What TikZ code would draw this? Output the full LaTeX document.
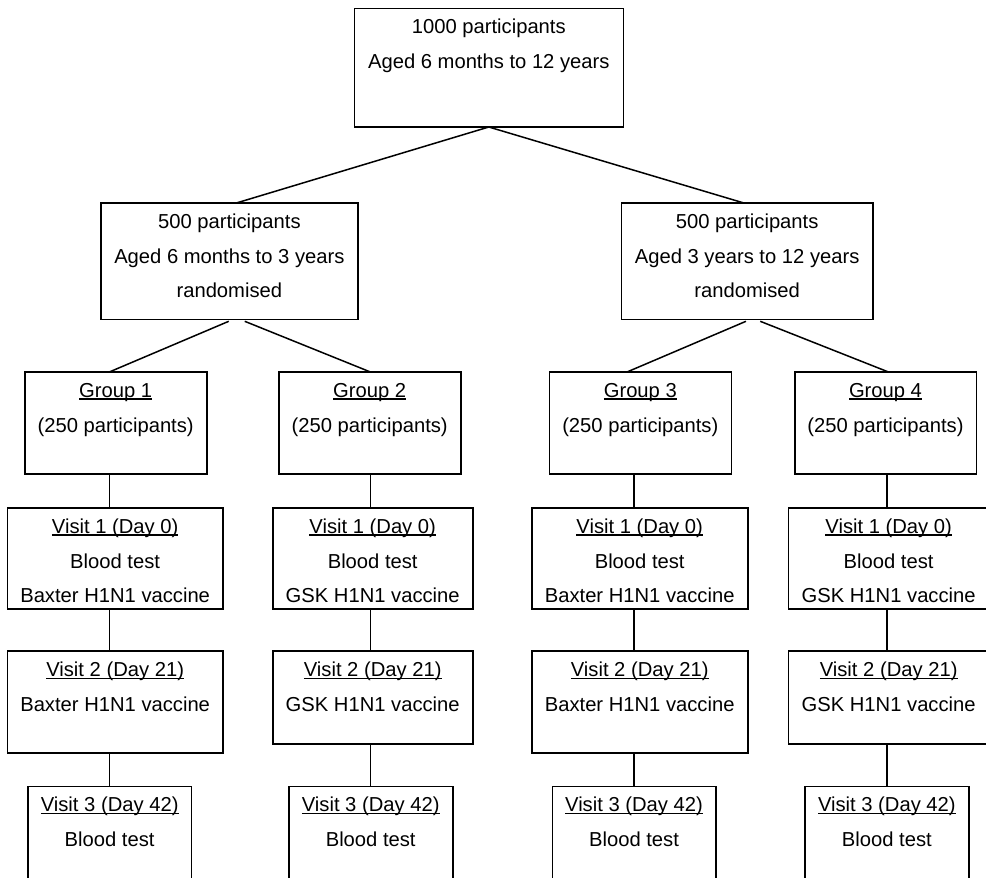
\documentclass[tikz,border=0pt]{standalone}
\usepackage{fontspec}
\setmainfont{Liberation Sans}
\usetikzlibrary{calc}
\newcommand\ulx[1]{\setbox0\hbox{#1}\rlap{\rule[-2.4pt]{\wd0}{1.3pt}}\box0}
\newcommand\btxt[3]{\parbox[t][#2pt][t]{#1pt}{\fontsize{20.2}{34.8}\selectfont\centering\rule{0pt}{25.5pt}#3}}
\tikzset{
  box/.style={draw, line width=1.6pt, inner sep=0pt, outer sep=0pt, anchor=north west},
  conn/.style={line width=1.5pt},
}
\begin{document}
\begin{tikzpicture}[x=1pt,y=-1pt]
\useasboundingbox (0,0) rectangle (986,878);
\clip (0,0) rectangle (986,878);
% level 1
\node[box] (top) at (354.3,8.3) {\btxt{269}{118.7}{1000 participants\\Aged 6 months to 12 years}};
% level 2
\node[box] (l2l) at (100.7,202.7) {\btxt{257.3}{116.6}{500 participants\\Aged 6 months to 3 years\\randomised}};
\node[box] (l2r) at (621.3,202.7) {\btxt{251.7}{116.6}{500 participants\\Aged 3 years to 12 years\\randomised}};
% groups
\node[box] (g1) at (24.7,371.7) {\btxt{182}{102.3}{\ulx{Group 1}\\(250 participants)}};
\node[box] (g2) at (278.7,371.7) {\btxt{182}{102.3}{\ulx{Group 2}\\(250 participants)}};
\node[box] (g3) at (549.3,371.7) {\btxt{182}{102.3}{\ulx{Group 3}\\(250 participants)}};
\node[box] (g4) at (794.7,371.7) {\btxt{181.6}{102.3}{\ulx{Group 4}\\(250 participants)}};
% visit 1
\node[box] (v11) at (7.3,507.7) {\btxt{215.7}{101.3}{\ulx{Visit 1 (Day 0)}\\Blood test\\Baxter H1N1 vaccine}};
\node[box] (v12) at (272.7,507.7) {\btxt{200}{101.3}{\ulx{Visit 1 (Day 0)}\\Blood test\\GSK H1N1 vaccine}};
\node[box] (v13) at (531.7,507.7) {\btxt{216}{101.3}{\ulx{Visit 1 (Day 0)}\\Blood test\\Baxter H1N1 vaccine}};
\node[box] (v14) at (788.3,507.7) {\btxt{200.7}{101.3}{\ulx{Visit 1 (Day 0)}\\Blood test\\GSK H1N1 vaccine}};
% visit 2
\node[box] (v21) at (7.3,651) {\btxt{215.7}{101.7}{\ulx{Visit 2 (Day 21)}\\Baxter H1N1 vaccine}};
\node[box] (v22) at (272.7,651) {\btxt{200}{93}{\ulx{Visit 2 (Day 21)}\\GSK H1N1 vaccine}};
\node[box] (v23) at (531.7,651) {\btxt{216}{101.7}{\ulx{Visit 2 (Day 21)}\\Baxter H1N1 vaccine}};
\node[box] (v24) at (788.3,651) {\btxt{200.7}{93}{\ulx{Visit 2 (Day 21)}\\GSK H1N1 vaccine}};
% visit 3
\node[box] (v31) at (28,786.3) {\btxt{163.3}{100}{\ulx{Visit 3 (Day 42)}\\Blood test}};
\node[box] (v32) at (288.7,786.3) {\btxt{164}{100}{\ulx{Visit 3 (Day 42)}\\Blood test}};
\node[box] (v33) at (552.3,786.3) {\btxt{163.4}{100}{\ulx{Visit 3 (Day 42)}\\Blood test}};
\node[box] (v34) at (805,786.3) {\btxt{163.7}{100}{\ulx{Visit 3 (Day 42)}\\Blood test}};
% connectors
\draw[conn] (top.south) -- ($(l2l.north)+(8,0)$);
\draw[conn] (top.south) -- ($(l2r.north)+(-4.3,0)$);
\draw[conn] ($(l2l.south)+(-0.6,2)$) -- ($(g1.north)+(-5.7,0)$);
\draw[conn] ($(l2l.south)+(15.4,2)$) -- (g2.north);
\draw[conn] ($(l2r.south)+(-1.2,2)$) -- ($(g3.north)+(-12.6,0)$);
\draw[conn] ($(l2r.south)+(13.1,2)$) -- ($(g4.north)+(2.2,0)$);
\foreach \i in {1,2,3,4}{
  \draw[conn] (g\i.south -| v3\i.north) -- (v1\i.north -| v3\i.north);
  \draw[conn] (v1\i.south -| v3\i.north) -- (v2\i.north -| v3\i.north);
  \draw[conn] (v2\i.south -| v3\i.north) -- (v3\i.north);
}
\end{tikzpicture}
\end{document}
